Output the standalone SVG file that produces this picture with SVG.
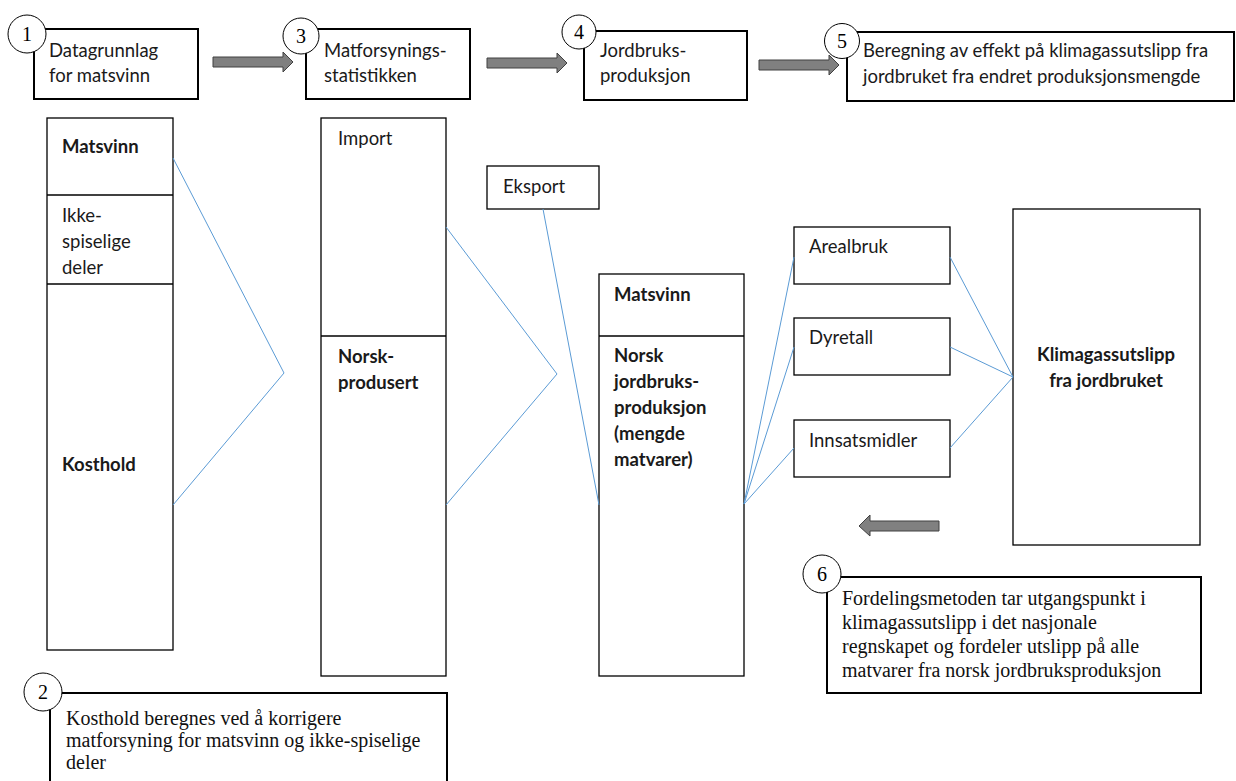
<svg xmlns="http://www.w3.org/2000/svg" width="1236" height="781" viewBox="0 0 1236 781">
<defs>
<style>
.box{fill:#fff;stroke:#000;stroke-width:1.3}
.tbox{fill:#fff;stroke:#000;stroke-width:2}
.num{fill:#fff;stroke:#000;stroke-width:1}
.t{font-family:Lato,"Open Sans",sans-serif;font-size:18.5px;fill:#1a1a1a}
.b{font-weight:bold}
.s{font-family:"Liberation Serif","Times New Roman",serif;font-size:20px;fill:#111}
.n{font-family:"Liberation Serif","Times New Roman",serif;font-size:20px;fill:#000;text-anchor:middle}
.ln{fill:none;stroke:#5b9bd5;stroke-width:1}
.arr{fill:#808080;stroke:#404040;stroke-width:1}
</style>
</defs>
<rect width="1236" height="781" fill="#fff"/>

<g id="step1">
<rect class="tbox" x="34" y="29" width="164" height="70"/>
<circle class="num" cx="27" cy="34" r="19"/>
<text class="n" x="27" y="41">1</text>
<text class="t" x="49" y="57">Datagrunnlag</text>
<text class="t" x="49" y="82">for matsvinn</text>
</g>
<g id="step3">
<rect class="tbox" x="306" y="29" width="164" height="70"/>
<circle class="num" cx="301" cy="36" r="18"/>
<text class="n" x="301" y="43">3</text>
<text class="t" x="324" y="57">Matforsynings-</text>
<text class="t" x="324" y="82">statistikken</text>
</g>
<g id="step4">
<rect class="tbox" x="584" y="31" width="163" height="69"/>
<circle class="num" cx="579" cy="32" r="17"/>
<text class="n" x="579" y="39">4</text>
<text class="t" x="600" y="57">Jordbruks-</text>
<text class="t" x="600" y="82">produksjon</text>
</g>
<g id="step5">
<rect class="tbox" x="847" y="32" width="387" height="69"/>
<circle class="num" cx="842" cy="41" r="17.5"/>
<text class="n" x="842" y="48">5</text>
<text class="t" x="863" y="57">Beregning av effekt på klimagassutslipp fra</text>
<text class="t" x="863" y="83">jordbruket fra endret produksjonsmengde</text>
</g>

<g id="arrows">
<polygon class="arr" points="213,57 283,57 283,52 293,62 283,72 283,67 213,67"/>
<polygon class="arr" points="487,58 557,58 557,53 567,63 557,73 557,68 487,68"/>
<polygon class="arr" points="759,60 829,60 829,55 839,65 829,75 829,70 759,70"/>
<polygon class="arr" points="939,521 870,521 870,515 859,526 870,536 870,531 939,531"/>
</g>

<g id="col1">
<rect class="box" x="47" y="118" width="126" height="532"/>
<line x1="47" y1="195" x2="173" y2="195" stroke="#000" stroke-width="1.3"/>
<line x1="47" y1="284" x2="173" y2="284" stroke="#000" stroke-width="1.3"/>
<text class="t b" x="62" y="153">Matsvinn</text>
<text class="t" x="62" y="222">Ikke-</text>
<text class="t" x="62" y="248">spiselige</text>
<text class="t" x="62" y="274">deler</text>
<text class="t b" x="62" y="471">Kosthold</text>
</g>

<g id="col2">
<rect class="box" x="321" y="118" width="125" height="558"/>
<line x1="321" y1="336" x2="446" y2="336" stroke="#000" stroke-width="1.3"/>
<text class="t" x="338" y="145">Import</text>
<text class="t b" x="338" y="363">Norsk-</text>
<text class="t b" x="338" y="389">produsert</text>
</g>

<g id="eksport">
<rect class="box" x="487" y="166" width="112" height="43"/>
<text class="t" x="503" y="193">Eksport</text>
</g>

<g id="col3">
<rect class="box" x="599" y="274" width="145" height="402"/>
<line x1="599" y1="336" x2="744" y2="336" stroke="#000" stroke-width="1.3"/>
<text class="t b" x="614" y="301">Matsvinn</text>
<text class="t b" x="614" y="362">Norsk</text>
<text class="t b" x="614" y="388">jordbruks-</text>
<text class="t b" x="614" y="414">produksjon</text>
<text class="t b" x="614" y="440">(mengde</text>
<text class="t b" x="614" y="466">matvarer)</text>
</g>

<g id="arealbruk">
<rect class="box" x="794" y="227" width="156" height="57"/>
<text class="t" x="809" y="253">Arealbruk</text>
</g>
<g id="dyretall">
<rect class="box" x="794" y="318" width="156" height="57"/>
<text class="t" x="809" y="344">Dyretall</text>
</g>
<g id="innsatsmidler">
<rect class="box" x="794" y="420" width="156" height="57"/>
<text class="t" x="809" y="447">Innsatsmidler</text>
</g>

<g id="klima">
<rect class="box" x="1013" y="209" width="187" height="336"/>
<text class="t b" x="1106" y="361" text-anchor="middle">Klimagassutslipp</text>
<text class="t b" x="1106" y="387" text-anchor="middle">fra jordbruket</text>
</g>

<g id="note2">
<rect class="tbox" x="50" y="693" width="397" height="100"/>
<circle class="num" cx="43" cy="692" r="19"/>
<text class="n" x="43" y="699">2</text>
<text class="s" x="66" y="725">Kosthold beregnes ved å korrigere</text>
<text class="s" x="66" y="747">matforsyning for matsvinn og ikke-spiselige</text>
<text class="s" x="66" y="769">deler</text>
</g>

<g id="note6">
<rect class="tbox" x="827" y="577" width="374" height="116"/>
<circle class="num" cx="822" cy="574" r="19"/>
<text class="n" x="822" y="581">6</text>
<text class="s" x="842" y="605">Fordelingsmetoden tar utgangspunkt i</text>
<text class="s" x="842" y="629">klimagassutslipp i det nasjonale</text>
<text class="s" x="842" y="653">regnskapet og fordeler utslipp på alle</text>
<text class="s" x="842" y="677">matvarer fra norsk jordbruksproduksjon</text>
</g>

<g id="connectors">
<polyline class="ln" points="173,158 284,373 173,505"/>
<polyline class="ln" points="446,227 557,374 446,505"/>
<line class="ln" x1="543" y1="209" x2="599" y2="505"/>
<line class="ln" x1="744" y1="504" x2="794" y2="257"/>
<line class="ln" x1="744" y1="504" x2="794" y2="347"/>
<line class="ln" x1="744" y1="504" x2="794" y2="448"/>
<line class="ln" x1="950" y1="257" x2="1013" y2="377"/>
<line class="ln" x1="950" y1="347" x2="1013" y2="377"/>
<line class="ln" x1="950" y1="448" x2="1013" y2="377"/>
</g>
</svg>
